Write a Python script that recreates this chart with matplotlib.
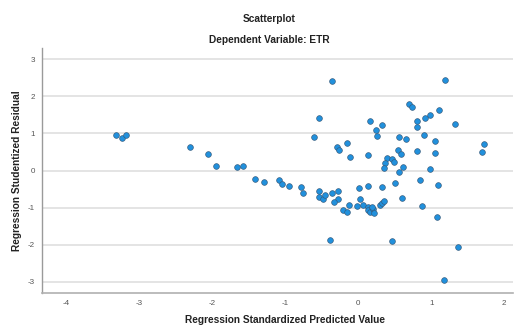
import matplotlib
matplotlib.use("Agg")
import matplotlib.pyplot as plt

# regression standardized predicted value (x) vs studentized residual (y)
pred = [-3.31, -3.23, -3.18, -2.30, -2.05, -1.95, -1.66, -1.58, -1.41, -1.29,
        -1.08, -1.04, -0.95, -0.78, -0.75, -0.54, -0.53, -0.48, -0.45, -0.36,
        -0.28, -0.27, -0.33, -0.21, -0.15, -0.12, -0.01, 0.01, 0.03, 0.07,
        0.13, 0.14, 0.16, 0.20, 0.22, 0.19, 0.14, 0.32, 0.30, 0.33,
        0.36, 0.50, 0.60, 0.84, 0.88, 1.09, 1.08, -0.38, 0.46, 1.36,
        1.18, -0.36, 1.19, 0.69, 0.74, -0.53, 1.11, 0.99, 0.91, 0.81,
        0.80, 1.32, 0.16, 0.32, 0.25, 0.26, -0.60, -0.15, -0.29, -0.26,
        -0.11, 0.14, 0.56, 0.66, 0.90, 1.05, 0.81, 1.05, 1.72, 1.69,
        0.55, 0.58, 0.39, 0.46, 0.37, 0.49, 0.35, 0.62, 0.56, 0.98]
resid = [0.95, 0.88, 0.95, 0.64, 0.45, 0.12, 0.09, 0.12, -0.24, -0.32,
         -0.26, -0.36, -0.41, -0.45, -0.61, -0.55, -0.72, -0.77, -0.65, -0.61,
         -0.55, -0.76, -0.86, -1.07, -1.12, -0.94, -0.97, -0.48, -0.77, -0.94,
         -0.98, -1.07, -1.11, -1.05, -1.14, -0.99, -0.42, -0.45, -0.94, -0.89,
         -0.82, -0.35, -0.75, -0.25, -0.95, -0.39, -1.26, -1.88, -1.91, -2.07,
         -2.97, 2.42, 2.45, 1.79, 1.71, 1.43, 1.63, 1.50, 1.41, 1.35,
         1.17, 1.26, 1.35, 1.22, 1.10, 0.94, 0.90, 0.75, 0.64, 0.55,
         0.37, 0.43, 0.91, 0.85, 0.95, 0.81, 0.53, 0.48, 0.72, 0.51,
         0.55, 0.44, 0.34, 0.32, 0.21, 0.22, 0.08, 0.09, -0.03, 0.04]

xticks = [-4, -3, -2, -1, 0, 1, 2]
yticks = [-3, -2, -1, 0, 1, 2, 3]

plt.rcParams['font.family'] = ['Liberation Sans', 'DejaVu Sans']

fig = plt.figure(figsize=(5.15, 3.25), dpi=100)
ax = fig.add_axes([42 / 515, 1 - 293 / 325, 471 / 515, 245 / 325])

ax.set_xlim(-4.33, 2.12)
ax.set_ylim(-3.31, 3.31)
ax.set_xticks(xticks)
ax.set_yticks(yticks)
ax.set_xticklabels([str(t) for t in xticks])
ax.set_yticklabels([str(t) for t in yticks])
ax.tick_params(length=0, labelsize=5.8, labelcolor='#555555', pad=5)

for y in yticks:
    ax.axhline(y, color='#dcdcdc', lw=1.1, zorder=0)

for s in ['top', 'right']:
    ax.spines[s].set_visible(False)
ax.spines['left'].set_color('#9a9a9a')
ax.spines['bottom'].set_color('#b0b0b0')
ax.spines['left'].set_linewidth(1.0)
ax.spines['bottom'].set_linewidth(1.2)

ax.scatter(pred, resid, s=17, c='#2190dc', edgecolors='#35597a',
           linewidths=0.45, zorder=3)

fig.text(269 / 515, 1 - 19 / 325, 'Scatterplot', ha='center', va='center',
         fontsize=7.3, fontweight='bold', color='#222222')
fig.text(269 / 515, 1 - 40 / 325, 'Dependent Variable: ETR', ha='center',
         va='center', fontsize=7.3, fontweight='bold', color='#222222')
fig.text(285 / 515, 1 - 320 / 325, 'Regression Standardized Predicted Value',
         ha='center', va='center', fontsize=7.3, fontweight='bold',
         color='#222222')
fig.text(17 / 515, 1 - 171 / 325, 'Regression Studentized Residual',
         ha='center', va='center', rotation=90, fontsize=7.3,
         fontweight='bold', color='#222222')

fig.savefig('out.png', dpi=100)
